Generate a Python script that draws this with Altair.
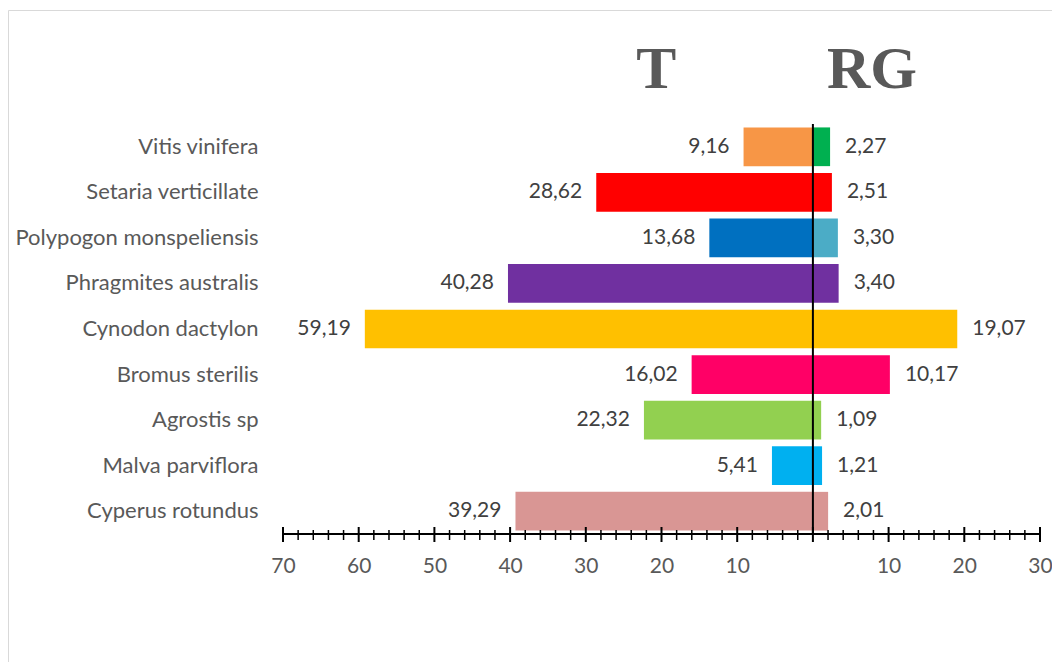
import altair as alt
import pandas as pd

species = ["Vitis vinifera", "Setaria verticillate", "Polypogon monspeliensis",
           "Phragmites australis", "Cynodon dactylon", "Bromus sterilis",
           "Agrostis sp", "Malva parviflora", "Cyperus rotundus"]
t_values = [9.16, 28.62, 13.68, 40.28, 59.19, 16.02, 22.32, 5.41, 39.29]
rg_values = [2.27, 2.51, 3.30, 3.40, 19.07, 10.17, 1.09, 1.21, 2.01]
t_colors = ["#F79646", "#FF0000", "#0070C0", "#7030A0", "#FFC000",
            "#FF0066", "#92D050", "#00B0F0", "#D99694"]
rg_colors = ["#00B050", "#FF0000", "#4BACC6", "#7030A0", "#FFC000",
             "#FF0066", "#92D050", "#00B0F0", "#D99694"]
major_ticks = [-70, -60, -50, -40, -30, -20, -10, 0, 10, 20, 30]
minor_ticks = [v for v in range(-70, 31, 2) if v % 10 != 0]

FONT = "Lato"
W, H = 757, 410

rows = []
for s, tv, rv, tc, rc in zip(species, t_values, rg_values, t_colors, rg_colors):
    rows.append({"species": s, "side": "T", "start": 0, "end": -tv, "color": tc,
                 "label": f"{tv:.2f}".replace(".", ",")})
    rows.append({"species": s, "side": "RG", "start": 0, "end": rv, "color": rc,
                 "label": f"{rv:.2f}".replace(".", ",")})
df = pd.DataFrame(rows)

xscale = alt.Scale(domain=[-70, 30], nice=False, zero=False)
yscale = alt.Scale(domain=species, paddingInner=0.15, paddingOuter=0.075)

base = alt.Chart(df)

bars = base.mark_bar().encode(
    x=alt.X("start:Q", scale=xscale,
            axis=alt.Axis(values=major_ticks, title=None, ticks=False, domain=False,
                          grid=False, labelExpr="datum.value == 0 ? '' : abs(datum.value)",
                          labelFont=FONT, labelFontSize=21, labelColor="#595959",
                          labelPadding=21, labelFlush=False, labelOverlap=False)),
    x2="end:Q",
    y=alt.Y("species:N", scale=yscale, sort=species,
            axis=alt.Axis(title=None, ticks=False, domain=False, labelFont=FONT,
                          labelFontSize=22, labelColor="#595959", labelPadding=25,
                          labelLimit=400)),
    color=alt.Color("color:N", scale=None),
)

left_labels = base.transform_filter(alt.datum.side == "T").mark_text(
    align="right", baseline="middle", dx=-14, font=FONT, fontSize=21, color="#404040"
).encode(x=alt.X("end:Q", scale=xscale), y=alt.Y("species:N", scale=yscale, sort=species),
         text="label:N")

right_labels = base.transform_filter(alt.datum.side == "RG").mark_text(
    align="left", baseline="middle", dx=15, font=FONT, fontSize=21, color="#404040"
).encode(x=alt.X("end:Q", scale=xscale), y=alt.Y("species:N", scale=yscale, sort=species),
         text="label:N")

zero_line = alt.Chart(pd.DataFrame({"x": [0]})).mark_rule(color="black", strokeWidth=2).encode(
    x=alt.X("x:Q", scale=xscale), y=alt.value(0), y2=alt.value(H))

axis_line = alt.Chart(pd.DataFrame({"a": [-70], "b": [30]})).mark_rule(
    color="black", strokeWidth=2).encode(
    x=alt.X("a:Q", scale=xscale), x2="b:Q", y=alt.value(H))

major = alt.Chart(pd.DataFrame({"v": major_ticks})).mark_rule(
    color="black", strokeWidth=2).encode(
    x=alt.X("v:Q", scale=xscale), y=alt.value(H - 7), y2=alt.value(H + 8))

minor = alt.Chart(pd.DataFrame({"v": minor_ticks})).mark_rule(
    color="black", strokeWidth=1.5).encode(
    x=alt.X("v:Q", scale=xscale), y=alt.value(H - 4), y2=alt.value(H + 6))

titles = alt.Chart(pd.DataFrame({"t": ["T", "RG"], "x": [-20.7, 7.8]})).mark_text(
    font="Liberation Serif", fontWeight="bold", fontSize=60, color="#595959",
    baseline="middle", align="center").encode(
    x=alt.X("x:Q", scale=xscale), y=alt.value(-54), text="t:N")

frame = alt.Chart(pd.DataFrame({"f": [0]})).mark_rect(
    filled=False, stroke="#D9D9D9", strokeWidth=1).encode(
    x=alt.value(-274.5), x2=alt.value(W + 100), y=alt.value(-113.5), y2=alt.value(H + 300))

chart = alt.layer(frame, bars, zero_line, axis_line, major, minor,
                  left_labels, right_labels, titles).properties(
    width=W, height=H,
    autosize=alt.AutoSizeParams(type="none"),
    padding={"left": 275, "top": 116, "right": 12, "bottom": 128},
).configure_view(stroke=None)

chart.save("out.html", embed_options={"renderer": "svg", "actions": False})
